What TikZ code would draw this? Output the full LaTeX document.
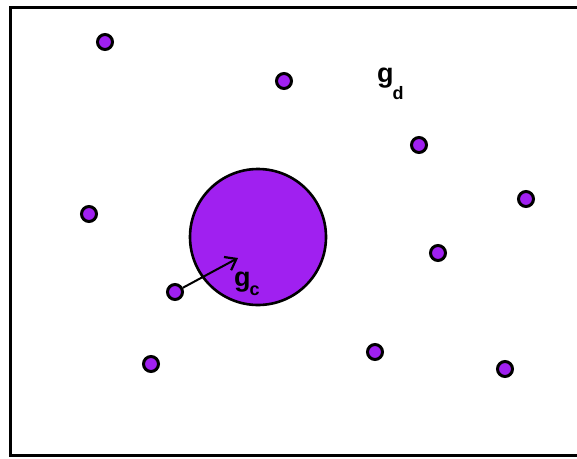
\documentclass[tikz,border=0pt]{standalone}
\usepackage{fontspec}
\setmainfont{Liberation Sans}
\usepackage{tikz}
\usetikzlibrary{arrows.meta,positioning}
\definecolor{ink}{HTML}{000000}
\definecolor{grain}{HTML}{A020F0}
\newcommand{\gsub}[2]{g\kern-1pt\raisebox{-#1pt}{\fontsize{18}{18}\selectfont #2}}
\tikzset{
  frame/.style={draw=ink,line width=3pt},
  grainsm/.style={circle,draw=ink,fill=grain,line width=3pt,minimum size=15pt,inner sep=0pt},
  grainbig/.style={circle,draw=ink,fill=grain,line width=2.6pt,minimum size=136pt,inner sep=0pt},
  gvec/.style={-{Straight Barb[length=10pt,width=15pt,line width=2.2pt]},line width=2pt,color=ink},
  lbl/.style={font=\fontsize{27}{28}\selectfont\bfseries,text=ink,inner sep=0pt,anchor=base west}
}
\begin{document}
\begin{tikzpicture}[x=1pt,y=-1pt]
  \useasboundingbox (0,0) rectangle (577,458);
  % open frame, right edge cut off
  \draw[frame] (600,7) -- (10,7) -- (10,455) -- (600,455);
  % large grain
  \node[grainbig] (big) at (258,237) {};
  % small grains
  \foreach \n/\x/\y in {a/105/42,b/284/81,c/419/145,d/526/199,e/89/214,
    f/438/253,g/175/292,h/151/364,i/375/352,j/505/369}{%
    \node[grainsm] (s\n) at (\x,\y) {};}
  % growth vector and labels
  \coordinate (tip) at (238,258);
  \draw[gvec] (sg) -- (tip);
  \node[lbl] (gc) at (234,286) {\gsub{9}{c}};
  \node[lbl] (gd) at (377,82) {\gsub{17}{d}};
\end{tikzpicture}
\end{document}
